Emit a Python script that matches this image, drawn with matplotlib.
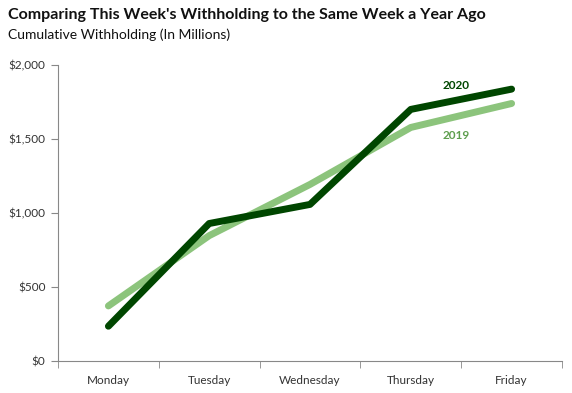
import matplotlib.pyplot as plt
from matplotlib.ticker import FuncFormatter

plt.rcParams['font.family'] = ['Lato', 'DejaVu Sans']

days = ['Monday', 'Tuesday', 'Wednesday', 'Thursday', 'Friday']
w2020 = [235, 929, 1058, 1700, 1837]
w2019 = [372, 847, 1193, 1578, 1740]

dark = '#004600'
light = '#8cc47c'

fig = plt.figure(figsize=(5.72, 3.93), dpi=100)
ax = fig.add_axes([58 / 572, 32 / 393, 504 / 572, 296 / 393])

x = range(len(days))
ax.plot(x, w2019, color=light, lw=5, solid_capstyle='round', solid_joinstyle='round')
ax.plot(x, w2020, color=dark, lw=5, solid_capstyle='round', solid_joinstyle='round')

ax.set_xlim(-0.5, 4.5)
ax.set_ylim(0, 2000)
ax.set_yticks([0, 500, 1000, 1500, 2000])
ax.yaxis.set_major_formatter(FuncFormatter(lambda v, p: f'${v:,.0f}'))
ax.set_xticks(list(x))
ax.set_xticklabels(days)
ax.set_xticks([i - 0.5 for i in range(len(days) + 1)], minor=True)
ax.tick_params(axis='x', which='major', length=0, pad=10, labelsize=8.5, colors='#333333')
ax.tick_params(axis='x', which='minor', length=5, color='#888888', direction='out')
ax.tick_params(axis='y', length=5, color='#888888', labelsize=8.5, labelcolor='#333333', pad=4)

for s in ['top', 'right']:
    ax.spines[s].set_visible(False)
for s in ['left', 'bottom']:
    ax.spines[s].set_color('#888888')

ax.text(3.45, 1860, '2020', color=dark, fontsize=8.5, fontweight='bold', ha='center', va='center')
ax.text(3.45, 1525, '2019', color='#5e9e4e', fontsize=8.5, fontweight='bold', ha='center', va='center')

fig.text(8 / 572, 1 - 15 / 393, "Comparing This Week's Withholding to the Same Week a Year Ago",
         fontsize=11.5, fontweight='bold', va='center', ha='left', color='#111111')
fig.text(8 / 572, 1 - 35 / 393, 'Cumulative Withholding (In Millions)',
         fontsize=10, va='center', ha='left', color='#111111')

fig.savefig('out.png', dpi=100)
